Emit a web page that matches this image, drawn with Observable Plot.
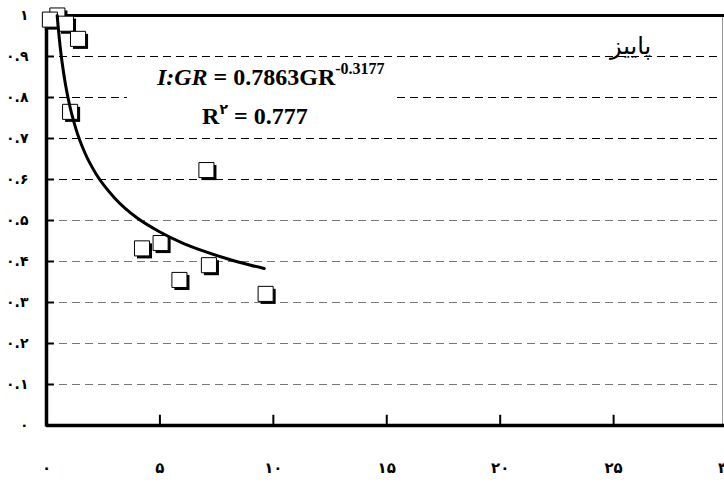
<!DOCTYPE html>
<html>
<head>
<meta charset="utf-8">
<script src="https://cdn.jsdelivr.net/npm/d3@7"></script>
<script src="https://cdn.jsdelivr.net/npm/@observablehq/plot@0.6"></script>
<style>
  html, body { margin: 0; padding: 0; background: #fff; }
  #chart svg { display: block; }
</style>
</head>
<body>
<div id="chart"></div>
<script>
// Observed points (GR, I:GR)
const pointX = [0.48, 0.15, 0.86, 1.39, 1.04, 4.21, 5.03, 5.86, 7.05, 7.16, 9.66];
const pointY = [1.0, 0.99, 0.98, 0.943, 0.765, 0.432, 0.445, 0.355, 0.623, 0.391, 0.321];

// Power trend line
const trendX = [0.47, 0.6, 0.8, 1.0, 1.3, 1.7, 2.2, 3, 4, 5, 6, 7, 8, 9, 9.6];
const trendY = [1.0, 0.925, 0.844, 0.786, 0.723, 0.664, 0.612, 0.555, 0.506, 0.472, 0.445, 0.424, 0.406, 0.391, 0.383];

// Ticks
const xTicks = [0, 5, 10, 15, 20, 25, 30];
const yTicks = [0, 0.1, 0.2, 0.3, 0.4, 0.5, 0.6, 0.7, 0.8, 0.9, 1];
const gridLines = [0.1, 0.2, 0.3, 0.4, 0.5, 0.6, 0.7, 0.8, 0.9];

// Texts
const seasonLabel = "پاییز";
const eqItalic = "I:GR";
const eqMain = " = 0.7863GR";
const eqExp = "-0.3177";
const r2Main = "R";
const r2Sup = "۲";
const r2Rest = " = 0.777";

const fa = s => String(s).replace(/[0-9]/g, d => "۰۱۲۳۴۵۶۷۸۹"[+d]);

const points = pointX.map((x, i) => ({x, y: pointY[i]}));
const trend = trendX.map((x, i) => ({x, y: trendY[i]}));

const plot = Plot.plot({
  width: 724,
  height: 498,
  marginLeft: 46,
  marginRight: 2,
  marginTop: 15,
  marginBottom: 73,
  x: {domain: [0, 29.8]},
  y: {domain: [0, 1]},
  style: {background: "#fff", overflow: "visible"},
  marks: [
    // dashed grid
    Plot.ruleY(gridLines, {
      y: d => d,
      stroke: d => d >= 0.6 ? "#000" : "#777",
      strokeWidth: 1,
      strokeDasharray: "8,5"
    }),
    // backdrop for the equation
    Plot.rect([{x1: 3.57, x2: 15.39, y1: 0.715, y2: 0.885}], {x1: "x1", x2: "x2", y1: "y1", y2: "y2", fill: "#fff"}),
    // right border
    Plot.frame({anchor: "right", stroke: "#999", strokeWidth: 1}),
    // axes lines
    Plot.ruleY([0], {stroke: "#000", strokeWidth: 3.5, insetRight: -4}),
    Plot.ruleY([1], {stroke: "#000", strokeWidth: 3, insetRight: -4}),
    Plot.ruleX([0], {stroke: "#000", strokeWidth: 3.5, insetBottom: -1.5, insetTop: -1.5}),
    // inward ticks
    Plot.ruleX(xTicks.filter(d => d > 0 && d < 30), {x: d => d, y1: 0, y2: 0.025, stroke: "#000", strokeWidth: 2}),
    Plot.ruleY(yTicks.filter(d => d > 0 && d < 1), {y: d => d, x1: 0, x2: 0.35, stroke: "#000", strokeWidth: 2}),
    // tick labels
    Plot.axisX({
      ticks: xTicks, tickSize: 0, tickPadding: 37,
      tickFormat: d => fa(d),
      fontSize: 15, fontWeight: "bold", fontFamily: "DejaVu Sans", fill: "#000"
    }),
    Plot.axisY({
      ticks: yTicks, tickSize: 0, tickPadding: 18,
      tickFormat: d => fa(d === 0 ? "0" : d === 1 ? "1" : d.toFixed(1)),
      fontSize: 14, fontWeight: "bold", fontFamily: "DejaVu Sans", fill: "#000"
    }),
    // point shadows and squares
    Plot.dot(points, {x: "x", y: "y", symbol: "square", r: 8.5, fill: "#000", stroke: "none", dx: 2.5, dy: 2.5}),
    Plot.dot(points, {x: "x", y: "y", symbol: "square", r: 8.5, fill: "#fff", stroke: "#000", strokeWidth: 1}),
    // trend line
    Plot.line(trend, {x: "x", y: "y", stroke: "#000", strokeWidth: 3, curve: "monotone-x"}),
    // season label
    Plot.text([seasonLabel], {x: 25.75, y: 0.925, text: d => d, fontSize: 24, fontFamily: "DejaVu Sans", fill: "#000"})
  ]
});

// equation annotation with superscripts
const sx = plot.scale("x"), sy = plot.scale("y");
const svg = d3.select(plot.tagName.toLowerCase() === "svg" ? plot : plot.querySelector("svg"));
const t1 = svg.append("text")
  .attr("x", sx.apply(4.89)).attr("y", sy.apply(0.83))
  .attr("text-anchor", "start")
  .attr("font-family", "Liberation Serif, Times New Roman, serif")
  .attr("font-size", 24).attr("font-weight", "bold").attr("fill", "#000");
t1.append("tspan").attr("font-style", "italic").text(eqItalic);
t1.append("tspan").text(eqMain);
t1.append("tspan").attr("font-size", 16).attr("dy", -11).text(eqExp);

const t2 = svg.append("text")
  .attr("x", sx.apply(6.88)).attr("y", sy.apply(0.734))
  .attr("text-anchor", "start")
  .attr("font-family", "Liberation Serif, Times New Roman, serif")
  .attr("font-size", 24).attr("font-weight", "bold").attr("fill", "#000");
t2.append("tspan").text(r2Main);
t2.append("tspan").attr("font-size", 14).attr("dy", -10).attr("font-family", "DejaVu Sans").text(r2Sup);
t2.append("tspan").attr("dy", 10).text(r2Rest);

document.getElementById("chart").appendChild(plot);
</script>
</body>
</html>
